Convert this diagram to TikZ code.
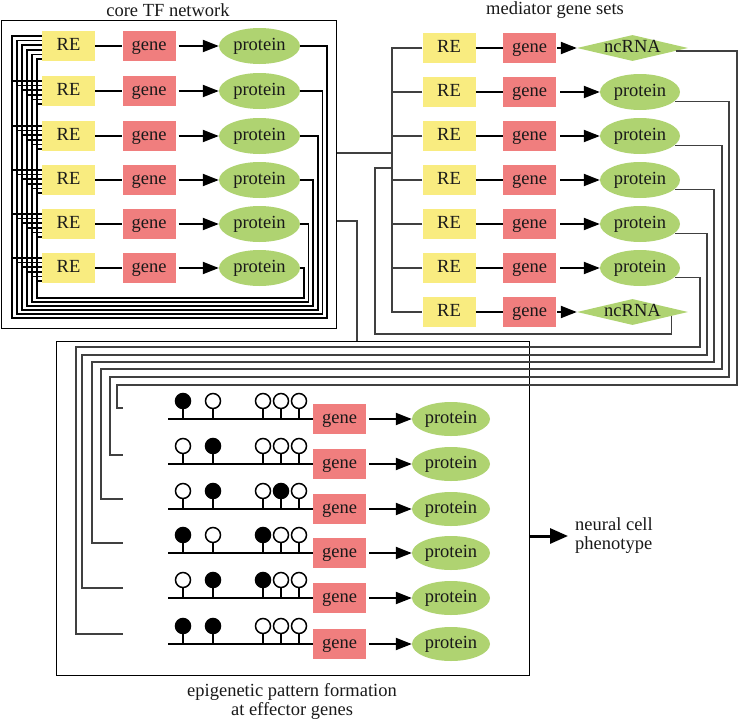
\documentclass[tikz,border=0pt]{standalone}
\usepackage{fontspec}
\setmainfont{Liberation Serif}
\usetikzlibrary{shapes.geometric,arrows.meta}
\definecolor{reY}{RGB}{249,236,128}
\definecolor{geneR}{RGB}{240,126,126}
\definecolor{protG}{RGB}{175,211,113}
\begin{document}
\begin{tikzpicture}[x=1pt,y=-1pt,
  lbl/.style={font=\fontsize{18.5}{19}\selectfont, text=black!90},
  inlbl/.style={lbl, text height=9pt, text depth=0pt},
  rebox/.style={rectangle, fill=reY, minimum width=53pt, minimum height=30pt, inner sep=0pt, inlbl},
  genebox/.style={rectangle, fill=geneR, minimum width=53pt, minimum height=30pt, inner sep=0pt, inlbl},
  prot/.style={ellipse, fill=protG, minimum width=81pt, minimum height=36pt, inner sep=0pt, inlbl},
  ncrna/.style={diamond, aspect=4.3, fill=protG, minimum width=111pt, minimum height=26pt, inner sep=0pt, inlbl},
  link/.style={line width=2pt},
  prodarrow/.style={line width=2pt, -{Triangle[length=16pt,width=12pt]}},
  fb/.style={line width=1.6pt},
  wire/.style={line width=1.1pt, black!75},
  boxframe/.style={draw, line width=1pt, inner sep=0pt, rectangle},
]
\useasboundingbox (0,0) rectangle (739,723);

% titles
\node[lbl] (coreTitle) at (168,10) {core TF network};
\node[lbl] (medTitle) at (555,10) {mediator gene sets};
\node[lbl, align=center] (epiTitle) at (292,701) {epigenetic pattern formation\\at effector genes};

% frames
\node[boxframe, minimum width=335pt, minimum height=308pt] (core) at (168.5,174) {};
\node[boxframe, minimum width=473pt, minimum height=334pt] (epi) at (292.5,508) {};

% core TF network rows
\foreach \i/\yy in {1/46,2/91,3/136,4/180,5/224,6/268}{
  \node[rebox] (cre\i) at (68.5,\yy) {RE};
  \node[genebox] (cg\i) at (149,\yy) {gene};
  \node[prot] (cp\i) at (259.5,\yy) {protein};
  \draw[link] (cre\i) -- (cg\i);
  \draw[prodarrow, shorten <=3pt] (cg\i) -- (cp\i);
}

% core feedback wiring
\foreach \i in {1,...,6}{
  \pgfmathsetmacro\xr{327-4.6*(\i-1)}
  \pgfmathsetmacro\yb{318-4*(\i-1)}
  \pgfmathsetmacro\xl{12+5*(\i-1)}
  \pgfmathsetmacro\yt{36+4.6*(\i-1)}
  \pgfmathsetmacro\sh{10-4.6*(\i-1)}
  \pgfmathsetmacro\len{30-5*(\i-1)}
  \draw[fb] (cp\i.east) -| (\xr,\yb) -| (\xl,\yt) -- ([yshift=\sh pt]cre1.west);
  \foreach \j in {2,...,6}{\draw[fb] ([yshift=\sh pt]cre\j.west) -- ++(-\len,0);}
}

% mediator gene sets
\foreach \k/\yy in {1/48,2/92,3/136,4/180,5/224,6/268,7/312}{
  \node[rebox] (mre\k) at (449,\yy) {RE};
  \node[genebox] (mg\k) at (529.5,\yy) {gene};
  \draw[link] (mre\k) -- (mg\k);
}
\node[ncrna] (mo1) at (632.5,48) {ncRNA};
\node[ncrna] (mo7) at (632.5,312) {ncRNA};
\draw[prodarrow, shorten <=1pt] (mg1) -- (mo1);
\draw[prodarrow, shorten <=1pt] (mg7) -- (mo7);
\foreach \k/\yy in {2/92,3/136,4/180,5/224,6/268}{
  \node[prot, minimum width=80pt] (mo\k) at (640,\yy) {protein};
  \draw[prodarrow, shorten <=4pt] (mg\k) -- (mo\k);
}

% mediator input bus
\coordinate (bus) at (392,0);
\coordinate (cin) at (392,153);
\coordinate (busfb) at (392,168);
\coordinate (ncfb) at (375,334);
\draw[wire] (mre1.west) -- (mre1.west -| bus) -- (mre7.west -| bus) -- (mre7.west);
\foreach \k in {2,...,6}{\draw[wire] (mre\k.west) -- (mre\k.west -| bus);}
\draw[wire] (cin -| core.east) -- (cin);
\draw[wire] (mo7.-6) |- (ncfb) |- (busfb);

% core -> epigenetic box
\coordinate (cepi) at (357,221);
\draw[wire] (cepi -| core.east) -| (epi.north -| cepi);

% mediator outputs -> epigenetic rows
\foreach \k/\ang/\xr/\yh/\xl/\ye in {1/-4/737/385/117/408, 2/-15/729/377/110/455, 3/-15/722/369/101/499, 4/-15/714/362/92/543, 5/-15/707/355/82/588, 6/-15/700/347/76/634}{
  \coordinate (ein\k) at (123,\ye);
  \draw[wire] (mo\k.\ang) -| (\xr,\yh) -| (\xl,\ye) -- (ein\k);
}

% epigenetic rows
\foreach \ei/\yy/\pa/\pb/\pc/\pd/\pf in {1/419/100/0/0/0/0, 2/464/0/100/0/0/0, 3/509/0/100/0/100/0, 4/553/100/0/100/0/0, 5/598/0/100/100/0/0, 6/644/100/100/0/0/0}{
  \node[genebox] (eg\ei) at (339.5,\yy) {gene};
  \node[prot, minimum width=78pt, minimum height=34pt] (ep\ei) at (451,\yy) {protein};
  \coordinate (dna\ei) at (168,\yy);
  \draw[link] (dna\ei) -- (eg\ei.west);
  \draw[prodarrow, shorten <=3pt] (eg\ei) -- (ep\ei);
  \foreach \px/\fl in {183/\pa,213/\pb,263/\pc,281/\pd,299/\pf}{
    \draw[line width=1.8pt] (\px,\yy) -- (\px,\yy-10);
    \draw[line width=1.5pt, fill=black!\fl] (\px,\yy-18) circle[radius=7.5pt];
  }
}

% phenotype
\node[lbl, align=left, anchor=west, inner sep=0pt] (neural) at (575,536) {neural cell\\phenotype};
\draw[line width=3pt, -{Triangle[length=18pt,width=15pt]}] (epi.east |- neural.west) -- ([xshift=-7pt]neural.west);
\end{tikzpicture}
\end{document}
